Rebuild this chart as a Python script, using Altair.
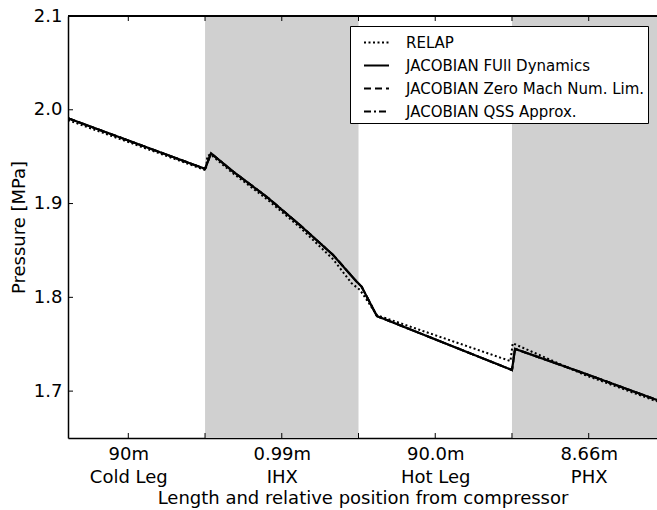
import altair as alt
import pandas as pd

# Pipe sections along the loop, each drawn with equal width on the x axis
section_names = ["Cold Leg", "IHX", "Hot Leg", "PHX"]
section_lengths = ["90m", "0.99m", "90.0m", "8.66m"]
section_start = [0.0, 1.0, 2.0, 3.0]
section_end = [1.0, 2.0, 3.0, 4.0]
section_shaded = [False, True, False, True]

# Pressure profiles [MPa] against relative position along the loop
pos_relap = [0.107, 1.005, 1.015, 1.039, 1.184, 1.401, 1.618, 1.835, 1.955, 2.009, 2.12, 2.99, 3.005, 3.47, 3.945]
p_relap = [1.989, 1.9355, 1.951, 1.952, 1.932, 1.905, 1.8747, 1.8405, 1.815, 1.808, 1.781, 1.732, 1.751, 1.7175, 1.689]

pos_full = [0.107, 1.0, 1.039, 1.184, 1.401, 1.618, 1.835, 1.988, 2.02, 2.12, 3.0, 3.02, 3.47, 3.945]
p_full = [1.991, 1.937, 1.9536, 1.934, 1.9073, 1.8771, 1.8451, 1.8167, 1.8114, 1.780, 1.7225, 1.745, 1.719, 1.6905]

pos_zero_mach = [0.107, 1.0, 1.039, 1.184, 1.401, 1.618, 1.835, 1.988, 2.02, 2.12, 3.0, 3.02, 3.47, 3.945]
p_zero_mach = [1.991, 1.937, 1.9536, 1.934, 1.9073, 1.8771, 1.8451, 1.8167, 1.8114, 1.780, 1.7225, 1.745, 1.719, 1.6905]

pos_qss = [0.107, 1.0, 1.039, 1.184, 1.401, 1.618, 1.835, 1.988, 2.02, 2.12, 3.0, 3.02, 3.47, 3.945]
p_qss = [1.991, 1.937, 1.9536, 1.934, 1.9073, 1.8771, 1.8451, 1.8167, 1.8114, 1.780, 1.7225, 1.745, 1.719, 1.6905]

series_names = [
    "RELAP",
    "JACOBIAN FUll Dynamics",
    "JACOBIAN Zero Mach Num. Lim.",
    "JACOBIAN QSS Approx.",
]
series_dash = [[2, 2.5], [1, 0], [7, 4], [7, 3, 2, 3]]

y_ticks = [1.7, 1.8, 1.9, 2.0, 2.1]
x_ticks = [0.5, 1.0, 1.5, 2.0, 2.5, 3.0, 3.5]

FONT = "DejaVu Sans"

sections = pd.DataFrame({
    "name": section_names,
    "length": section_lengths,
    "start": section_start,
    "end": section_end,
    "shaded": section_shaded,
})

rows = []
for name, xs, ps in zip(series_names,
                        [pos_relap, pos_full, pos_zero_mach, pos_qss],
                        [p_relap, p_full, p_zero_mach, p_qss]):
    for xv, pv in zip(xs, ps):
        rows.append({"series": name, "pos": xv, "pressure": pv})
profiles = pd.DataFrame(rows)

x_scale = alt.Scale(domain=[0.107, 3.945], nice=False, zero=False)
y_scale = alt.Scale(domain=[1.65, 2.1], nice=False, zero=False)

# two-line tick labels: length on top, section name below
centers = [(s + e) / 2 for s, e in zip(section_start, section_end)]
label_expr = "''"
for c, ln, nm in reversed(list(zip(centers, section_lengths, section_names))):
    label_expr = f"datum.value == {c} ? ['{ln}', '{nm}'] : ({label_expr})"

x_axis = alt.Axis(
    values=centers, labelExpr=label_expr, ticks=False, grid=False,
    title="Length and relative position from compressor",
    labelLineHeight=23, labelPadding=7, labelFlush=False, titlePadding=3,
    domainColor="black", domainWidth=1.5,
)
y_axis = alt.Axis(
    values=y_ticks, format=".1f", ticks=False, grid=False,
    title="Pressure [MPa]", labelPadding=6, titlePadding=5,
    domainColor="black", domainWidth=1.5,
)

shade = alt.Chart(sections).transform_filter("datum.shaded").mark_rect(
    color="#d0d0d0", clip=True
).encode(
    x=alt.X("start:Q", scale=x_scale, axis=x_axis),
    x2="end:Q",
)

legend = alt.Legend(
    orient="none", legendX=282, legendY=10, title=None,
    fillColor="white", strokeColor="black", cornerRadius=0,
    padding=3, symbolType="stroke", symbolSize=625, symbolStrokeWidth=2,
    symbolStrokeColor="black", symbolOffset=10, labelOffset=16, rowPadding=1,
    labelFontSize=15, labelFont=FONT, labelColor="black", labelLimit=400,
)
dash_scale = alt.Scale(domain=series_names, range=series_dash)

layers = [shade]
draw_order = [
    ("JACOBIAN Zero Mach Num. Lim.", 2.0),
    ("JACOBIAN QSS Approx.", 2.0),
    ("RELAP", 2.0),
    ("JACOBIAN FUll Dynamics", 2.2),
]
for name, width in draw_order:
    layers.append(
        alt.Chart(profiles).transform_filter(alt.datum.series == name).mark_line(
            color="black", strokeWidth=width, clip=True
        ).encode(
            x=alt.X("pos:Q", scale=x_scale, axis=x_axis),
            y=alt.Y("pressure:Q", scale=y_scale, axis=y_axis),
            strokeDash=alt.StrokeDash("series:N", scale=dash_scale, legend=legend),
        )
    )

# frame on top and inward tick marks on the three visible sides
top_frame = alt.Chart(sections).mark_rule(color="black", strokeWidth=1.5).encode(
    y=alt.datum(2.1, scale=y_scale)
)
tick_df = pd.DataFrame({"t": x_ticks})
ytick_df = pd.DataFrame({"v": y_ticks})
bottom_ticks = alt.Chart(tick_df).mark_rule(color="black", strokeWidth=1).encode(
    x=alt.X("t:Q", scale=x_scale), y=alt.value(422), y2=alt.value(417)
)
top_ticks = alt.Chart(tick_df).mark_rule(color="black", strokeWidth=1).encode(
    x=alt.X("t:Q", scale=x_scale), y=alt.value(0), y2=alt.value(5)
)
left_ticks = alt.Chart(ytick_df).mark_rule(color="black", strokeWidth=1).encode(
    y=alt.Y("v:Q", scale=y_scale), x=alt.value(0), x2=alt.value(5)
)
layers += [top_frame, bottom_ticks, top_ticks, left_ticks]

chart = alt.layer(*layers).properties(
    width=589, height=422,
    autosize=alt.AutoSizeParams(type="none"),
    padding={"left": 68, "top": 16, "right": 0, "bottom": 72},
    background="white",
).configure_view(strokeWidth=0).configure_axis(
    labelFont=FONT, titleFont=FONT, labelFontSize=18, titleFontSize=18,
    titleFontWeight="normal", labelColor="black", titleColor="black",
)

chart.save("out.html", embed_options={"renderer": "svg", "actions": False})
